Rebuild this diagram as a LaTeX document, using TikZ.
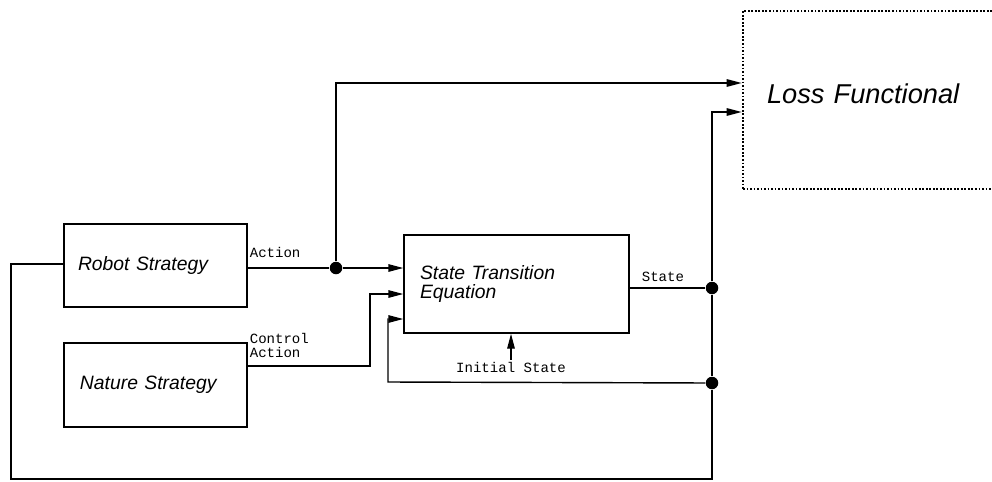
\documentclass[tikz,border=0pt]{standalone}
\usepackage{fontspec}
\setmainfont{Liberation Sans}
\setmonofont{Liberation Mono}
\usetikzlibrary{arrows.meta}
\tikzset{
  block/.style={draw, line width=0.8pt, align=left, font=\itshape\fontsize{11}{11}\selectfont},
  lossblock/.style={block, line width=1.5pt, dash pattern=on 1pt off 1pt, font=\itshape\fontsize{15.5}{16}\selectfont},
  sig/.style={font=\ttfamily\fontsize{8}{8}\selectfont, inner sep=1pt, align=left},
  wire/.style={line width=0.8pt},
  arr/.style={wire, -{Triangle[length=3mm,width=1.5mm]}},
  junction/.style={circle, fill, inner sep=0pt, minimum size=2.5mm}
}
\begin{document}
\begin{tikzpicture}[x=0.2mm, y=-0.2mm]
  \useasboundingbox (0,0) rectangle (992,481);
  \clip (0,0) rectangle (992,481);
  \node[block, text width=31mm, inner xsep=2.8mm, minimum height=16.6mm] (robot) at (155.5,265.5) {Robot Strategy};
  \node[block, text width=30.2mm, inner xsep=3.2mm, minimum height=16.8mm] (nature) at (155.5,385) {Nature Strategy};
  \node[block, text width=38.6mm, inner xsep=3.2mm, minimum height=19.6mm] (state) at (516.5,284) {State Transition\\Equation};
  \node[lossblock, text width=41.8mm, inner xsep=4.8mm, text depth=2.4mm, minimum height=35.6mm] (loss) at (871.5,100) {Loss Functional};
  \node[junction] (actdot) at (336,268) {};
  \node[junction] (stdot) at (712,288) {};
  \node[junction] (fbdot) at (712,383) {};
  \coordinate (ctl) at (370,294);
  \coordinate (fb) at (388,382);
  \coordinate (bl) at (11,479);
  \draw[wire] (robot.east |- actdot) -- (actdot);
  \draw[arr] (actdot) -- (actdot -| state.west);
  \draw[arr] (actdot) |- ([yshift=3.4mm]loss.west);
  \draw[arr] ([yshift=3.8mm]nature.east) -| (ctl) -- (ctl -| state.west);
  \draw[wire] (state.east |- stdot) -- (stdot);
  \draw[arr] (stdot) |- ([yshift=-2.4mm]loss.west);
  \draw[wire] (stdot) -- (fbdot);
  \draw[arr] (fbdot) -- (fb) |- ([yshift=-7mm]state.west);
  \draw[wire] (fbdot) |- (bl) |- ([yshift=0.3mm]robot.west);
  \node[sig] (init) at (511,367) {Initial State};
  \draw[arr] (init.north) -- (init.north |- state.south);
  \path (robot.east |- actdot) node[sig, anchor=south west, yshift=1.6mm] {Action};
  \path ([yshift=3.8mm]nature.east) node[sig, anchor=south west, yshift=1.2mm] {Control\\Action};
  \path (state.east |- stdot) node[sig, anchor=south west, xshift=2mm, yshift=0.8mm] {State};
\end{tikzpicture}
\end{document}
